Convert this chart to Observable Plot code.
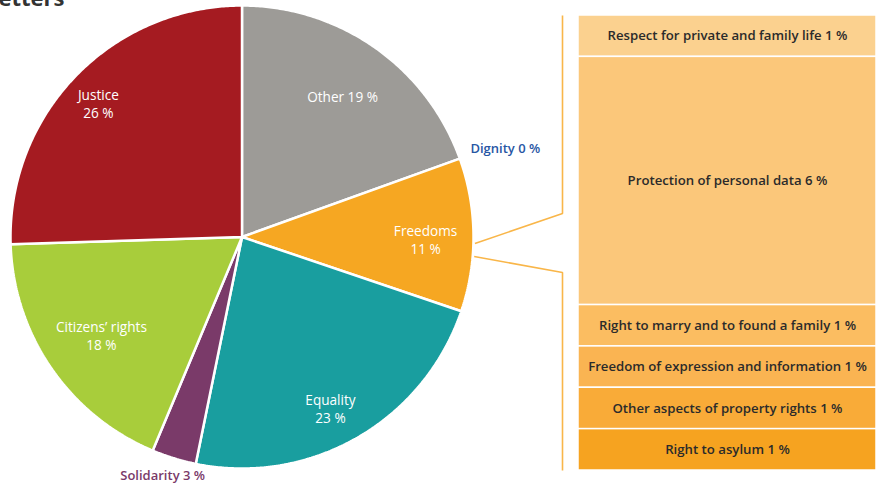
<!DOCTYPE html>
<html><head><meta charset="utf-8">
<script src="https://cdn.jsdelivr.net/npm/d3@7"></script>
<script src="https://cdn.jsdelivr.net/npm/@observablehq/plot@0.6"></script>
<style>
body{margin:0;background:#fff;overflow:hidden;}
#wrap{position:relative;width:878px;height:485px;overflow:hidden;background:#fff;}
#chart{position:absolute;left:0;top:0;}
#title{position:absolute;left:-14px;top:-14px;font:700 22px "Open Sans";color:#333;line-height:22px;z-index:2;}
</style></head><body>
<div id="wrap"><div id="chart"></div><div id="title">Letters</div></div>
<script>
// ---- data ----
const categories = ["Other", "Dignity", "Freedoms", "Equality", "Solidarity", "Citizens’ rights", "Justice"];
const sliceShares = [19.5, 0, 10.7, 23.0, 3.1, 18.2, 25.5];   // as measured from slice angles
const shareLabels = [19, 0, 11, 23, 3, 18, 26];               // printed percentages
const sliceColors = ["#9D9B97", "#2756A4", "#F6A722", "#199E9F", "#7A3A69", "#A8CD3B", "#A51B21"];

const freedomTopics = [
  "Respect for private and family life",
  "Protection of personal data",
  "Right to marry and to found a family",
  "Freedom of expression and information",
  "Other aspects of property rights",
  "Right to asylum"
];
const freedomShares = [1, 6, 1, 1, 1, 1];
const freedomColors = ["#FBD18F", "#FBC77A", "#FBBD61", "#FAB452", "#F9AB38", "#F6A320"];

// ---- layout (pixel geometry of the frame) ----
const W = 878, H = 485;
const PX = 455 / 11;                       // pixels per percentage point in the breakdown bar
const toX = px => px / PX;
const toY = py => (470 - py) / PX;
const cx = toX(241.5), cy = toY(236.5), R = 231.5 / PX;
const barX1 = toX(578), barX2 = toX(876), linkX = toX(562);
const labelRadius = {"Other": 0.746, "Dignity": 1.2, "Freedoms": 0.793, "Equality": 0.834, "Solidarity": 1.086, "Citizens’ rights": 0.741, "Justice": 0.847};
const labelNudgeDeg = {"Other": 0.5, "Dignity": 1.2, "Freedoms": 1.3, "Equality": 2.6, "Solidarity": 1.3, "Citizens’ rights": -0.4, "Justice": -1.2};
const outside = new Set(["Dignity", "Solidarity"]);
const oneLine = new Set(["Other", "Dignity", "Solidarity"]);
const linkAnglesDeg = [91.6, 94.8];

// ---- derived geometry ----
const arcs = d3.pie().sort(null).value(d => d)(sliceShares);
const slicePts = [];
categories.forEach((c, i) => {
  const {startAngle: a0, endAngle: a1} = arcs[i];
  if (a1 - a0 <= 0) return;
  slicePts.push({cat: c, color: sliceColors[i], x: cx, y: cy});
  const n = Math.max(2, Math.ceil((a1 - a0) / (Math.PI / 360)));
  for (let j = 0; j <= n; j++) {
    const a = a0 + (a1 - a0) * j / n;
    slicePts.push({cat: c, color: sliceColors[i], x: cx + R * Math.sin(a), y: cy + R * Math.cos(a)});
  }
  slicePts.push({cat: c, color: sliceColors[i], x: cx, y: cy});
});

const pieLabels = categories.map((c, i) => {
  const a = (arcs[i].startAngle + arcs[i].endAngle) / 2 + (labelNudgeDeg[c] || 0) * Math.PI / 180;
  const rr = R * labelRadius[c];
  return {
    x: cx + rr * Math.sin(a), y: cy + rr * Math.cos(a),
    text: oneLine.has(c) ? `${c} ${shareLabels[i]} %` : `${c}\n${shareLabels[i]} %`,
    fill: outside.has(c) ? sliceColors[i] : "white",
    outside: outside.has(c)
  };
});

const freedomData = freedomTopics.map((t, i) => ({topic: t, share: freedomShares[i], color: freedomColors[i]}));
const total = d3.sum(freedomShares);
const half = 0.713;
const links = [];
linkAnglesDeg.forEach((deg, k) => {
  const a = deg * Math.PI / 180, r0 = R + 1.5 / PX;
  links.push({side: k, x: cx + r0 * Math.sin(a), y: cy + r0 * Math.cos(a)});
  links.push({side: k, x: linkX, y: total / 2 + (k === 0 ? half : -half)});
  links.push({side: k, x: linkX, y: k === 0 ? total : 0});
});

const font = "'Open Sans', sans-serif";
const chart = Plot.plot({
  width: W, height: H,
  margin: 0,
  style: {background: "white", fontFamily: font},
  x: {domain: [0, W / PX], range: [0, W], axis: null},
  y: {domain: [toY(H), toY(0)], range: [H, 0], axis: null},
  color: {type: "identity"},
  marks: [
    Plot.line(slicePts, {x: "x", y: "y", z: "cat", fill: "color", stroke: "white", strokeWidth: 2.5, curve: "linear", strokeLinejoin: "miter"}),
    Plot.text(pieLabels.filter(d => !d.outside), {x: "x", y: "y", text: "text", fill: "fill", fontSize: 13.6, fontWeight: 500, lineHeight: 1.28}),
    Plot.text(pieLabels.filter(d => d.outside), {x: "x", y: "y", text: "text", fill: "fill", fontSize: 13, fontWeight: 600}),
    Plot.line(links, {x: "x", y: "y", z: "side", stroke: "#F9B649", strokeWidth: 1.6, strokeLinejoin: "miter", strokeLinecap: "butt"}),
    Plot.rectY(freedomData, Plot.stackY({x1: () => barX1, x2: () => barX2, y: "share", fill: "color", stroke: "white", strokeWidth: 1.5, reverse: true})),
    Plot.text(freedomData, Plot.stackY({x: () => (barX1 + barX2) / 2, y: "share", text: d => `${d.topic} ${d.share} %`, fill: "#2B2B2B", fontSize: 13.2, fontWeight: 600, reverse: true}))
  ]
});
document.getElementById("chart").appendChild(chart);
</script>
</body></html>
